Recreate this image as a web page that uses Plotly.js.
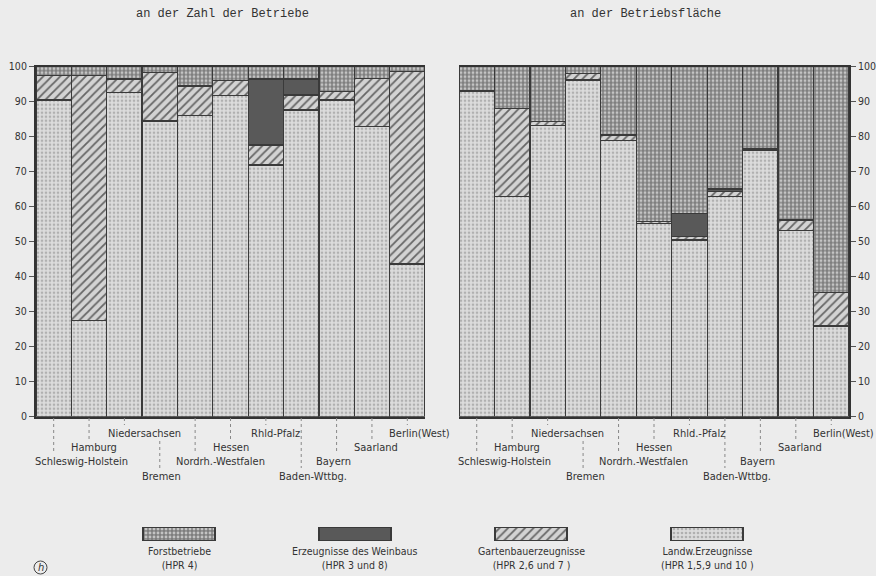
<!DOCTYPE html>
<html>
<head>
<meta charset="utf-8">
<script src="https://cdn.plot.ly/plotly-3.0.1.min.js"></script>
<style>html,body{margin:0;padding:0;background:#ececec;}</style>
</head>
<body>
<div id="chart" style="width:876px;height:576px;"></div>
<script>
// ---------- data ----------
const states = ['Schleswig-Holstein','Hamburg','Niedersachsen','Bremen','Nordrh.-Westfalen','Hessen','Rhld-Pfalz','Baden-Wttbg.','Bayern','Saarland','Berlin(West)'];
const labelsZahl = ['Schleswig-Holstein','Hamburg','Niedersachsen','Bremen','Nordrh.-Westfalen','Hessen','Rhld-Pfalz','Baden-Wttbg.','Bayern','Saarland','Berlin(West)'];
const labelsFlaeche = ['Schleswig-Holstein','Hamburg','Niedersachsen','Bremen','Nordrh.-Westfalen','Hessen','Rhld.-Pfalz','Baden-Wttbg.','Bayern','Saarland','Berlin(West)'];

// share of number of holdings (%)
const landwZahl  = [90.5, 27.4, 92.7, 84.5, 86.0, 91.7, 71.9, 87.6, 90.5, 83.0, 43.6];
const gartenZahl = [ 6.9, 70.0,  3.8, 13.8,  8.5,  4.3,  5.7,  4.3,  2.4, 13.7, 55.0];
const weinZahl   = [ 0.0,  0.0,  0.0,  0.0,  0.0,  0.0, 18.9,  4.6,  0.0,  0.0,  0.0];
const forstZahl  = [ 2.6,  2.6,  3.5,  1.7,  5.5,  4.0,  3.5,  3.5,  7.1,  3.3,  1.4];

// share of area (%)
const landwFlaeche  = [92.9, 62.9, 83.3, 96.2, 79.0, 55.3, 50.5, 62.9, 76.2, 53.1, 25.9];
const gartenFlaeche = [ 0.3, 25.2,  1.0,  1.9,  1.5,  0.5,  0.9,  1.4,  0.3,  3.1,  9.5];
const weinFlaeche   = [ 0.0,  0.0,  0.0,  0.0,  0.0,  0.0,  6.7,  0.8,  0.0,  0.0,  0.0];
const forstFlaeche  = [ 6.8, 11.9, 15.7,  1.9, 19.5, 44.2, 41.9, 34.9, 23.5, 43.8, 64.6];

const legendNames = ['Forstbetriebe','Erzeugnisse des Weinbaus','Gartenbauerzeugnisse','Landw.Erzeugnisse'];
const legendSub   = ['(HPR 4)','(HPR 3 und 8)','(HPR 2,6 und 7 )','(HPR 1,5,9 und 10 )'];
const yTicks = [0,10,20,30,40,50,60,70,80,90,100];

// ---------- styles ----------
const lineStyle = {color:'#3a3a3a', width:1.3};
const styles = {
  landw:  {color:'#d2d2d2', line:lineStyle, pattern:{shape:'.', fgcolor:'#b0b0b0', bgcolor:'#dcdcdc', size:4, solidity:0.35}},
  garten: {color:'#c8c8c8', line:lineStyle, pattern:{shape:'/', fgcolor:'#666666', bgcolor:'#d3d3d3', size:6, solidity:0.3}},
  wein:   {color:'#595959', line:lineStyle},
  forst:  {color:'#8a8a8a', line:lineStyle, pattern:{shape:'.', fgcolor:'#c4c4c4', bgcolor:'#7e7e7e', size:4, solidity:0.4}}
};
const legendStyles = [styles.forst, styles.wein, styles.garten, styles.landw];

function bar(y, st, xa, ya){
  return {type:'bar', x:states, y:y, marker:st, xaxis:xa, yaxis:ya, showlegend:false, hoverinfo:'skip'};
}
const traces = [
  bar(landwZahl, styles.landw, 'x', 'y'),
  bar(gartenZahl, styles.garten, 'x', 'y'),
  bar(weinZahl, styles.wein, 'x', 'y'),
  bar(forstZahl, styles.forst, 'x', 'y'),
  bar(landwFlaeche, styles.landw, 'x2', 'y2'),
  bar(gartenFlaeche, styles.garten, 'x2', 'y2'),
  bar(weinFlaeche, styles.wein, 'x2', 'y2'),
  bar(forstFlaeche, styles.forst, 'x2', 'y2')
];
legendNames.forEach((n,k)=>{
  traces.push({type:'bar', x:[n], y:[1], width:0.41, marker:legendStyles[k], xaxis:'x3', yaxis:'y4', showlegend:false, hoverinfo:'skip'});
});

// ---------- layout ----------
const W = 876, H = 576;
const py = v => 1 - v/H;
const px = v => v/W;
const cond = 'DejaVu Sans Condensed, Liberation Sans Narrow, Arial Narrow, sans-serif';
const axisFont = {family:cond, size:10.5, color:'#333'};
const labelFont = {family:cond, size:11, color:'#333'};
const legFont = {family:cond, size:10.5, color:'#333'};
const yDom = [py(416.7), py(66.7)];

function yAxis(extra){
  return Object.assign({domain:yDom, range:[0,100], tickvals:yTicks, ticks:'outside', ticklen:5, tickwidth:1, tickcolor:'#555',
    showgrid:false, zeroline:false, showline:true, linecolor:'#333', linewidth:2, tickfont:axisFont, fixedrange:true}, extra);
}
function xAxis(dom){
  return {domain:dom, type:'category', categoryarray:states, categoryorder:'array', range:[-0.5, states.length-0.5],
    autorange:false, showticklabels:false, ticks:'', showgrid:false, zeroline:false,
    showline:true, linecolor:'#333', linewidth:2, mirror:true, fixedrange:true};
}

// label rows (pixel y) and offsets
const rowOf = [3,2,1,4,3,2,1,4,3,2,1];
const rowY = {1:433, 2:447, 3:461, 4:476};
const shiftOf = [28,5,20,2,25,0,10,12,-3,4,12];

const annotations = [];
const shapes = [];
[['x', labelsZahl], ['x2', labelsFlaeche]].forEach(([xr, labs])=>{
  states.forEach((s,i)=>{
    const r = rowOf[i];
    annotations.push({xref:xr, yref:'paper', x:s, y:py(rowY[r]), text:labs[i], showarrow:false,
      xanchor:'center', yanchor:'middle', xshift:shiftOf[i], font:labelFont});
    const start = (r===4 && i===3) ? 441 : 418;
    shapes.push({type:'line', xref:xr, yref:'paper', x0:s, x1:s, y0:py(start), y1:py(rowY[r]-8),
      line:{color:'#888', width:1, dash:'dot'}});
  });
});
// titles
const monoFont = {family:'Liberation Mono, DejaVu Sans Mono, monospace', size:12, color:'#333'};
annotations.push({xref:'paper', yref:'paper', x:px(222), y:py(14), xanchor:'center', yanchor:'middle',
  text:'an der Zahl der Betriebe', showarrow:false, font:monoFont});
annotations.push({xref:'paper', yref:'paper', x:px(645), y:py(14), xanchor:'center', yanchor:'middle',
  text:'an der Betriebsfläche', showarrow:false, font:monoFont});
// legend texts
legendNames.forEach((n,k)=>{
  annotations.push({xref:'x3', yref:'paper', x:n, y:py(543), text:n + '<br>' + legendSub[k], showarrow:false,
    xanchor:'center', yanchor:'top', align:'center', font:legFont});
});
// (h) mark
shapes.push({type:'circle', xref:'paper', yref:'paper', x0:px(34), x1:px(47), y0:py(574), y1:py(561), line:{color:'#444', width:1}});
annotations.push({xref:'paper', yref:'paper', x:px(40.5), y:py(567.5), xanchor:'center', yanchor:'middle', text:'<i>h</i>', showarrow:false,
  font:{family:'DejaVu Sans, sans-serif', size:10, color:'#333'}});

const layout = {
  width:W, height:H, margin:{l:0,r:0,t:0,b:0},
  paper_bgcolor:'#ececec', plot_bgcolor:'#ececec',
  barmode:'stack', bargap:0,
  xaxis: xAxis([px(36), px(425)]),
  yaxis: yAxis({anchor:'x', side:'left'}),
  yaxis3: yAxis({anchor:'x', overlaying:'y', side:'right'}),
  xaxis2: xAxis([px(459), px(849)]),
  yaxis2: yAxis({anchor:'x2', side:'right'}),
  xaxis3: {domain:[0,1], type:'category', categoryarray:legendNames, categoryorder:'array', range:[-1.017, 3.96], autorange:false, visible:false, fixedrange:true},
  yaxis4: {domain:[py(541), py(527)], range:[0,1], visible:false, anchor:'x3', fixedrange:true},
  annotations: annotations,
  shapes: shapes,
  showlegend:false
};

Plotly.newPlot('chart', traces, layout, {staticPlot:true, displayModeBar:false});
</script>
</body>
</html>
